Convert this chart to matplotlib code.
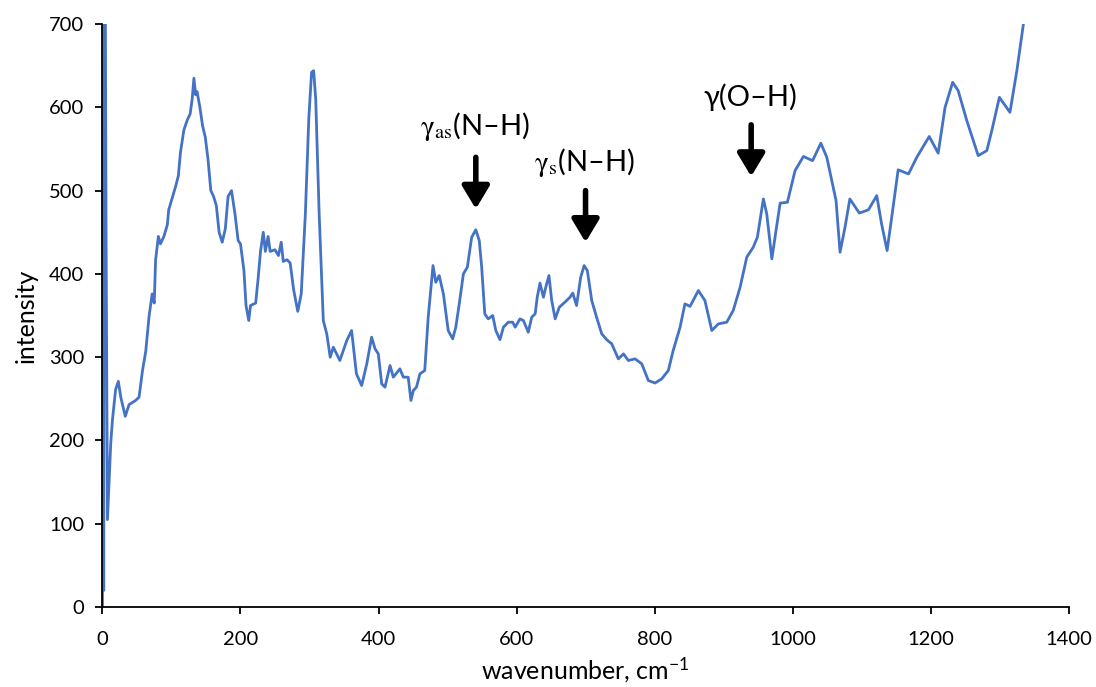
import numpy as np
import matplotlib
matplotlib.use("Agg")
import matplotlib.pyplot as plt

"""
===========================================================
                    Data (read off the spectrum)
===========================================================
"""
wavenumber = [0, 0.8, 1.8, 2.8, 4, 5.2, 7.2, 12, 14.5, 19,
              23, 26.5, 33, 38.5, 48, 53, 58, 62.7, 67.5, 72,
              75, 77, 81, 84, 89, 94, 96, 101, 106, 110,
              113, 118, 123, 127, 130, 132.5, 135, 137, 141, 145,
              149, 153, 157, 161, 165, 169, 173.5, 178, 182, 187,
              192, 196.6, 200, 205, 208, 212, 214.5, 222, 225.5, 229,
              233, 236, 240, 243, 250, 255, 259, 262, 267.5, 272,
              277, 283, 288, 294, 299, 303, 306, 309, 314, 320,
              325, 330, 334.5, 344, 354, 361, 368, 375.6, 383, 390,
              395, 399.7, 404.6, 409.4, 416.7, 421.4, 431, 436, 443, 447,
              450.5, 455, 460, 467, 472, 479, 483, 488, 494, 501,
              507.5, 512, 517, 523, 528.7, 535, 541, 546, 549.5, 554,
              559, 565.5, 570, 576, 581, 588, 594.5, 598, 605, 610,
              617, 622, 627, 630, 634, 639, 643, 647, 651, 656,
              662, 670, 677.5, 681.5, 687, 693, 698, 702.6, 709, 716,
              723.5, 730.7, 738, 747.5, 755, 762, 771.7, 781.5, 791, 800.7,
              810.4, 820, 827, 837, 844, 851.4, 863.5, 873, 883, 892.5,
              904.6, 914, 924, 933.6, 943, 949, 957.7, 962.6, 970, 976,
              982, 992.5, 1003.6, 1015.7, 1029, 1041, 1049.6, 1056.8, 1063, 1068.8,
              1076, 1083, 1096.8, 1110, 1122, 1129, 1137, 1145, 1153, 1168,
              1180, 1198, 1211, 1221, 1232, 1240, 1252.5, 1269, 1281.5, 1288.7,
              1299.7, 1315, 1325, 1334.5, 1337]

intensity = [0, 760, 20, 760, 760, 450, 105, 197, 225, 261,
             271, 252, 229, 243, 248, 252, 284, 307, 349, 376,
             365, 417, 445, 436, 445, 459, 477, 491, 505, 518,
             546, 573, 585, 592, 610, 635, 615, 619, 601, 578,
             564, 537, 500, 493, 482, 450, 438, 454, 493, 500,
             472, 440, 436, 404, 362, 344, 362, 365, 394, 427,
             450, 427, 445, 427, 429, 422, 438, 415, 417, 413,
             381, 355, 376, 472, 587, 642, 644, 610, 472, 344,
             328, 300, 312, 296, 320, 332, 280, 266, 292, 324,
             310, 304, 268, 264, 290, 276, 286, 276, 276, 248,
             260, 264, 280, 284, 348, 410, 390, 398, 376, 332,
             322, 336, 364, 400, 408, 444, 453, 440, 408, 352,
             346, 350, 332, 321, 336, 342, 342, 336, 346, 344,
             330, 348, 352, 372, 389, 372, 386, 398, 368, 346,
             360, 366, 372, 377, 362, 396, 410, 404, 368, 348,
             328, 321, 316, 298, 304, 296, 298, 292, 272, 269,
             274, 284, 308, 336, 364, 361, 380, 368, 332, 340,
             342, 356, 384, 420, 432, 444, 490, 472, 418, 452,
             485, 486, 524, 541, 536, 557, 540, 512, 488, 426,
             456, 490, 473, 477, 494, 460, 428, 476, 525, 520,
             540, 565, 545, 600, 630, 620, 584, 542, 548, 572,
             612, 594, 644, 700, 720]

# band labels and where their arrows point
band_labels = [r'$\mathrm{\gamma}_{\mathrm{as}}$(N–H)', r'$\mathrm{\gamma}_{\mathrm{s}}$(N–H)', 'γ(O–H)']
band_pos = [541, 700, 940]

"""
===========================================================
                    Draw
===========================================================
"""
plt.rcParams['font.family'] = ['Lato', 'DejaVu Sans']
plt.rcParams['mathtext.fontset'] = 'custom'
plt.rcParams['mathtext.rm'] = 'Lato'
plt.rcParams['mathtext.it'] = 'Lato:italic'

fig = plt.figure(figsize=(10.96, 6.87), dpi=100)
ax = fig.add_axes([0.0935, 0.1164, 0.8815, 0.8486])

ax.plot(wavenumber, intensity, color='#4472C4', linewidth=2.0, clip_on=True)

ax.set_xlim(0, 1400)
ax.set_ylim(0, 700)
ax.set_xticks(np.arange(0, 1401, 200))
ax.set_yticks(np.arange(0, 701, 100))
ax.tick_params(axis='both', labelsize=14.5, direction='out', length=5, width=1.3, colors='black')
ax.tick_params(axis='x', pad=12)
ax.tick_params(axis='y', pad=8)
ax.spines['top'].set_visible(False)
ax.spines['right'].set_visible(False)
ax.spines['left'].set_linewidth(1.3)
ax.spines['bottom'].set_linewidth(1.3)

ax.set_ylabel('intensity', fontsize=18, labelpad=8)
ax.set_xlabel('wavenumber, cm$^{\\mathrm{-1}}$', fontsize=18, labelpad=6)

# annotations: text above, thick arrow pointing down at the band
text_y = [577, 534, 612]
arrow_top = [540, 500, 579]
arrow_len = 62
for lab, xp, ty, at in zip(band_labels, band_pos, text_y, arrow_top):
    ax.text(xp - 1, ty, lab, fontsize=21, ha='center', va='center', math_fontfamily='stix')
    ax.annotate('', xy=(xp, at - arrow_len), xytext=(xp, at),
                arrowprops=dict(arrowstyle='-|>, head_length=0.55, head_width=0.33',
                                mutation_scale=25, lw=4, color='black',
                                shrinkA=0, shrinkB=0))

plt.savefig('out.png', dpi=100)
